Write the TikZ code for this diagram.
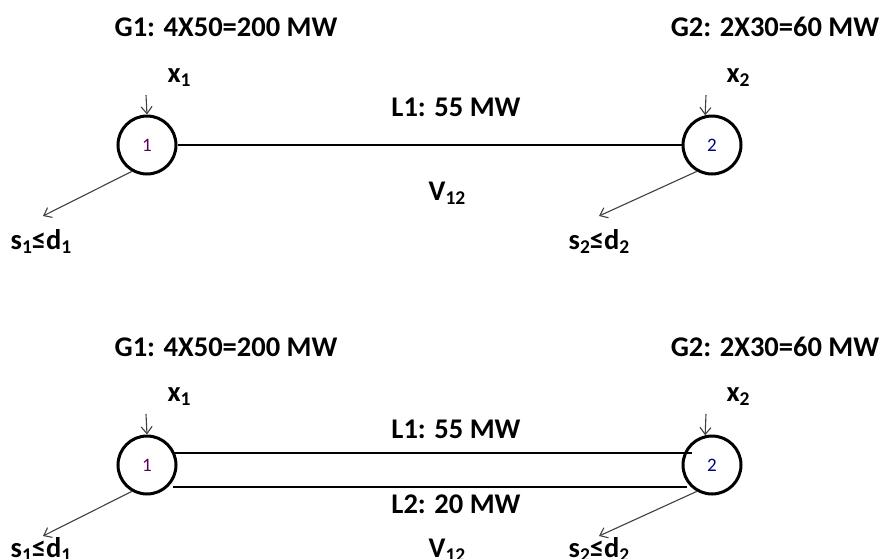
\documentclass[tikz,border=0pt]{standalone}
\usepackage{fontspec}
\setmainfont{Carlito}
\usetikzlibrary{arrows.meta}
\newcommand{\sbs}[1]{\raisebox{-0.35ex}{\fontsize{19.5}{20}\selectfont #1}}
\begin{document}
\begin{tikzpicture}[x=1pt,y=-1pt,
  bus/.style={circle,draw,line width=3pt,minimum size=58pt,inner sep=0pt,font=\fontsize{19}{20}\selectfont},
  lbl/.style={font=\bfseries\fontsize{28.5}{30}\selectfont,inner sep=0pt,anchor=base},
  inj/.style={draw=black!75,line width=1.1pt,-{Straight Barb[length=7pt,width=11pt]}},
  tline/.style={line width=2.8pt}]
\useasboundingbox (0,0) rectangle (881,558);
% ---- top diagram ----
\node[bus,text=violet!70!black] (a1) at (147,145) {1};
\node[bus,text=blue!50!black] (a2) at (712,145) {2};
\draw[tline] (a1.east) -- (a2.west);
\node[lbl] (ag1) at (226,36) {G1: 4X50=200 MW};
\node[lbl] (ag2) at (775,36) {G2: 2X30=60 MW};
\node[lbl] (ax1) at (179,82) {x\sbs{1}};
\node[lbl] (ax2) at (738,82) {x\sbs{2}};
\coordinate (ax1s) at (146,95);
\coordinate (ax2s) at (706,95);
\draw[inj] (ax1s) -- (a1.north);
\draw[inj] (ax2s) -- (a2.103);
\node[lbl] (al1) at (456,116) {L1: 55 MW};
\node[lbl] (av) at (447,200) {V\sbs{12}};
\node[lbl] (as1) at (41,249) {s\sbs{1}≤d\sbs{1}};
\node[lbl] (as2) at (599,249) {s\sbs{2}≤d\sbs{2}};
\coordinate (as1e) at (43,216);
\coordinate (as2e) at (599,216);
\draw[inj] (a1.240) -- (as1e);
\draw[inj] (a2.240) -- (as2e);
% ---- bottom diagram ----
\node[bus,text=violet!70!black] (b1) at (147,465) {1};
\node[bus,text=blue!50!black] (b2) at (712,465) {2};
\coordinate (bt1) at (173,453);
\coordinate (bt2) at (692,453);
\coordinate (bb1) at (173,487);
\coordinate (bb2) at (687,487);
\draw[tline] (bt1) -- (bt2);
\draw[tline] (bb1) -- (bb2);
\node[lbl] (bg1) at (226,356) {G1: 4X50=200 MW};
\node[lbl] (bg2) at (775,356) {G2: 2X30=60 MW};
\node[lbl] (bx1) at (179,401) {x\sbs{1}};
\node[lbl] (bx2) at (738,401) {x\sbs{2}};
\coordinate (bx1s) at (146,414);
\coordinate (bx2s) at (706,414);
\draw[inj] (bx1s) -- (b1.north);
\draw[inj] (bx2s) -- (b2.103);
\node[lbl] (bl1) at (456,438) {L1: 55 MW};
\node[lbl] (bl2) at (456,513) {L2: 20 MW};
\node[lbl] (bv) at (447,557) {V\sbs{12}};
\node[lbl] (bs1) at (41,557) {s\sbs{1}≤d\sbs{1}};
\node[lbl] (bs2) at (599,557) {s\sbs{2}≤d\sbs{2}};
\coordinate (bs1e) at (43,536);
\coordinate (bs2e) at (599,536);
\draw[inj] (b1.240) -- (bs1e);
\draw[inj] (b2.240) -- (bs2e);
\end{tikzpicture}
\end{document}
